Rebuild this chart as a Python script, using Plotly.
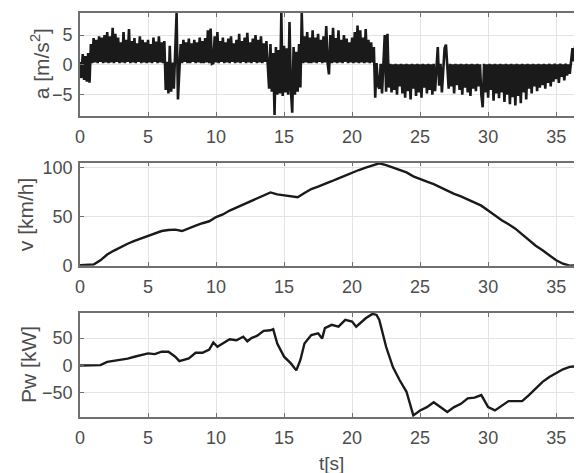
import numpy as np
import plotly.graph_objects as go
from plotly.subplots import make_subplots

# ---------------- data ----------------
# acceleration [m/s^2], sampled every 0.1 s from 0 to 36.9 s (read from picture)
a_rows = [
    [0.5, -2.2, 1.8, -2.5, 1.5, -2.8, 2.0, -3.0, 3.5, 0.3],
    [4.5, 0.4, 4.2, 0.3, 4.8, 0.5, 4.6, 0.3, 5.0, 0.4],
    [5.5, 0.3, 4.8, 0.4, 6.2, 0.3, 5.2, 0.5, 4.6, 0.3],
    [3.8, 0.4, 5.5, 0.3, 4.2, 0.5, 6.0, 0.3, 4.0, 0.4],
    [4.5, 0.3, 3.6, 0.5, 4.8, 0.3, 4.2, 0.4, 3.8, 0.3],
    [4.2, 0.4, 3.5, 0.3, 4.6, 0.5, 3.9, 0.3, 4.8, 0.4],
    [3.8, 0.3, 4.0, -4.2, 0.5, -4.8, 3.2, -4.5, 0.4, -4.0],
    [2.5, 8.7, -5.8, 0.4, 3.5, 0.3, 4.2, 0.5, 3.8, 0.3],
    [4.4, 0.3, 3.6, 0.5, 4.2, 0.3, 3.8, 0.4, 4.6, 0.3],
    [4.0, 0.3, 4.5, 0.4, 5.8, 0.3, 6.1, 0.2, 0.3, 4.8],
    [0.4, 5.5, 0.3, 4.0, 0.5, 4.6, 0.3, 3.8, 0.4, 4.4],
    [0.3, 4.8, 0.5, 3.6, 0.3, 4.2, 0.4, 5.2, 0.3, 4.0],
    [0.5, 4.6, 0.3, 5.4, 0.4, 3.8, 0.3, 4.4, 0.5, 5.0],
    [0.3, 4.2, 0.4, 4.8, 0.3, 3.6, 0.5, 4.0, 0.3, -4.0],
    [3.5, -4.5, 2.0, -8.4, 3.0, -5.0, 2.5, -4.8, 8.7, -5.2],
    [3.2, -4.6, 2.8, -5.0, 7.2, -4.2, -8.0, 3.0, -5.0, 2.2],
    [-4.5, 3.5, -3.8, 8.7, 0.3, 4.8, 0.4, 5.5, 0.3, 4.6],
    [0.3, 5.8, 0.4, 4.6, 0.3, 5.2, 0.5, 4.2, 0.3, 4.8],
    [0.4, 6.5, 0.3, -1.6, 5.0, 0.3, 6.2, 0.4, 4.5, 0.3],
    [5.8, 0.4, 4.2, 0.3, 5.0, 0.5, 4.4, 0.3, 3.8, 0.4],
    [4.6, 0.3, 5.5, 0.4, 6.6, 0.3, 5.8, 0.4, 4.6, 0.3],
    [6.0, 0.4, 4.2, 0.3, 3.8, 0.4, 3.0, -5.5, 0.3, -3.5],
    [-4.0, 0.2, -4.8, 0.3, 5.0, -4.5, 5.2, -3.8, 0.2, -4.6],
    [0.1, -4.2, 0.2, -5.0, 0.1, -3.6, 0.2, -4.8, 0.1, -5.5],
    [0.2, -4.4, 0.1, -5.8, 0.2, -4.0, 0.1, -5.2, 0.2, -4.6],
    [0.1, -5.5, 0.2, -3.8, 0.1, -4.8, 0.2, -4.2, 0.1, -5.0],
    [0.2, -4.4, 0.1, 3.0, -3.5, 0.2, -4.6, 0.1, 2.8, 3.4],
    [0.3, -4.0, 0.2, -3.6, 0.1, -4.8, 0.2, -3.4, 0.1, -4.2],
    [0.2, -5.0, 0.1, -3.8, 0.2, -4.6, 0.1, -5.2, 0.2, -4.0],
    [0.1, -4.4, 0.2, -3.6, 0.1, -5.0, -7.1, 0.2, -4.6, 0.1],
    [-5.5, 0.2, -4.2, 0.1, -6.0, 0.2, -4.8, 0.1, -5.6, 0.2],
    [-4.6, 0.1, -6.2, 0.2, -5.0, 0.1, -6.6, 0.2, -5.4, 0.1],
    [-6.8, 0.2, -5.2, 0.1, -6.4, 0.2, -4.6, 0.1, -5.8, 0.2],
    [-4.0, 0.1, -4.8, 0.2, -3.6, 0.1, -4.4, 0.2, -3.8, 0.1],
    [-3.4, 0.2, -4.0, 0.1, -3.0, 0.2, -3.6, 0.1, -2.8, 0.2],
    [-2.4, 0.1, -3.0, 0.2, -2.0, 0.1, -2.6, 0.2, -1.8, 0.1],
    [-1.5, 0.2, 2.8, 0.6, 3.2, 0.8, 2.4, -7.0, 1.5, 0.5],
]
a_vals = [v for row in a_rows for v in row]
a_t = [round(0.1 * i, 1) for i in range(len(a_vals))]

# velocity [km/h]
v_t = [0, 0.5, 1, 1.5, 2, 2.5, 3, 3.5, 4, 4.5, 5, 5.5, 6, 6.5, 7, 7.5, 8, 8.5, 9, 9.5,
       10, 10.5, 11, 11.5, 12, 12.5, 13, 13.5, 14, 14.5, 15, 15.5, 16, 16.5, 17, 17.5,
       18, 18.5, 19, 19.5, 20, 20.5, 21, 21.5, 22, 22.5, 23, 23.5, 24, 24.5, 25, 25.5,
       26, 26.5, 27, 27.5, 28, 28.5, 29, 29.5, 30, 30.5, 31, 31.5, 32, 32.5, 33, 33.5,
       34, 34.5, 35, 35.5, 36, 36.5, 36.9]
v_vals = [0, 0, 0.7, 5, 11, 15, 18.7, 22, 25, 27.5, 29.6, 32, 35, 36, 36.4, 35, 38, 40.5,
          43, 45, 49.3, 52, 56, 59, 62, 65, 68, 71.5, 74.5, 72.5, 71.4, 70.5, 69.7, 74,
          78, 80.5, 83, 86, 89, 92, 95, 97.5, 100, 102.5, 104.4, 102.5, 100, 97.5, 95,
          91, 88, 85.5, 83, 79.5, 76.5, 73, 70.4, 67.5, 64.6, 61, 56, 51, 46, 42, 37.4,
          31.5, 25.5, 20, 15.3, 10, 5, 1.5, -0.5, 0, 1]

# wheel power [kW]
p_t = [0, 0.5, 1, 1.5, 2, 2.5, 3, 3.5, 4, 4.5, 5, 5.5, 6, 6.5, 7, 7.3, 7.6, 8, 8.5, 9,
       9.5, 9.8, 10.1, 10.5, 11, 11.5, 12, 12.3, 12.6, 13, 13.5, 14, 14.2, 14.5, 15,
       15.5, 15.9, 16.2, 16.5, 17, 17.5, 17.8, 18, 18.5, 19, 19.5, 20, 20.3, 20.6, 21,
       21.5, 21.8, 22, 22.5, 23, 23.5, 24, 24.5, 25, 25.5, 26, 26.5, 27, 27.5, 28, 28.5,
       29, 29.5, 30, 30.5, 31, 31.5, 32, 32.5, 33, 33.5, 34, 34.5, 35, 35.5, 36, 36.5, 36.9]
p_vals = [0, 0, 0, 0.5, 6.6, 8.5, 9.7, 12.5, 15.8, 18.5, 22, 20.7, 25, 25, 16, 8, 10,
          12.8, 23, 23, 29, 42, 34, 40, 47.6, 46, 52.4, 44, 50, 53.7, 63, 64, 66, 40, 16,
          3.7, -9, 10, 40, 55.5, 58.6, 49, 68, 74, 70.7, 83, 80, 70.7, 78, 86, 94, 92, 83,
          34, -3, -27, -48, -91, -82, -76, -67, -76, -85, -76, -70, -60, -58.6, -54, -76,
          -82, -72.7, -65, -65, -65, -54, -42, -30, -21, -13.6, -7, -2.6, -1.5, -1]
assert len(v_t) == len(v_vals) and len(p_t) == len(p_vals)

x_ticks = [0, 5, 10, 15, 20, 25, 30, 35]
a_ticks = [-5, 0, 5]
v_ticks = [0, 50, 100]
p_ticks = [-50, 0, 50]

# ---------------- figure ----------------
fig = make_subplots(rows=3, cols=1, shared_xaxes=False, vertical_spacing=0.1)
line_col = "#1a1a1a"
fig.add_trace(go.Scatter(x=a_t, y=a_vals, mode="lines",
                         line=dict(color=line_col, width=2.6)), row=1, col=1)
fig.add_trace(go.Scatter(x=v_t, y=v_vals, mode="lines",
                         line=dict(color=line_col, width=2.4)), row=2, col=1)
fig.add_trace(go.Scatter(x=p_t, y=p_vals, mode="lines",
                         line=dict(color=line_col, width=2.4)), row=3, col=1)

font_family = "Liberation Sans, Arial, sans-serif"
text_col = "#4d4d4d"
tick_font = dict(family=font_family, size=18, color=text_col)
axis_common = dict(showline=True, mirror="ticks", linecolor="#707070", linewidth=1.6,
                   showgrid=True, gridcolor="#e3e3e3", gridwidth=1,
                   ticks="inside", ticklen=4, tickcolor="#707070", tickwidth=1,
                   zeroline=False, tickfont=tick_font, automargin=False)

# the page body adds an 8 px offset, so figure coordinates are page - 8
W, H = 574, 465
L, R, T, B = 72, 0, 5, 56
pw, ph = W - L - R, H - T - B

domains = [[0.746, 1.0], [0.3745, 0.6295], [0.0, 0.258]]
y_ranges = [[-8.5, 8.7], [-0.5, 105], [-94, 96]]
y_tickvals = [a_ticks, v_ticks, p_ticks]

for i in range(3):
    fig.update_xaxes(range=[0, 36.9], tickvals=x_ticks, ticklabelstandoff=4,
                     row=i + 1, col=1, **axis_common)
    fig.update_yaxes(range=y_ranges[i], tickvals=y_tickvals[i], domain=domains[i],
                     ticklabelstandoff=2, row=i + 1, col=1, **axis_common)

# axis titles (as annotations for exact placement)
y_titles = ["a [m/s<sup>2</sup>]", "v [km/h]", "Pw [kW]"]
y_title_px = [32, 17, 21]
for i in range(3):
    d = domains[i]
    fig.add_annotation(text=y_titles[i], textangle=-90, showarrow=False,
                       xref="paper", yref="paper",
                       x=(y_title_px[i] - L) / pw, y=(d[0] + d[1]) / 2,
                       xanchor="center", yanchor="middle",
                       font=dict(family=font_family, size=21, color=text_col))
fig.add_annotation(text="t[s]", showarrow=False, xref="paper", yref="paper",
                   x=0.5, y=(H - B - 455) / ph, xanchor="center", yanchor="middle",
                   font=dict(family=font_family, size=19, color=text_col))

fig.update_layout(width=W, height=H, showlegend=False,
                  margin=dict(l=L, r=R, t=T, b=B, autoexpand=False),
                  paper_bgcolor="white", plot_bgcolor="white")

fig.write_html("out.html")
